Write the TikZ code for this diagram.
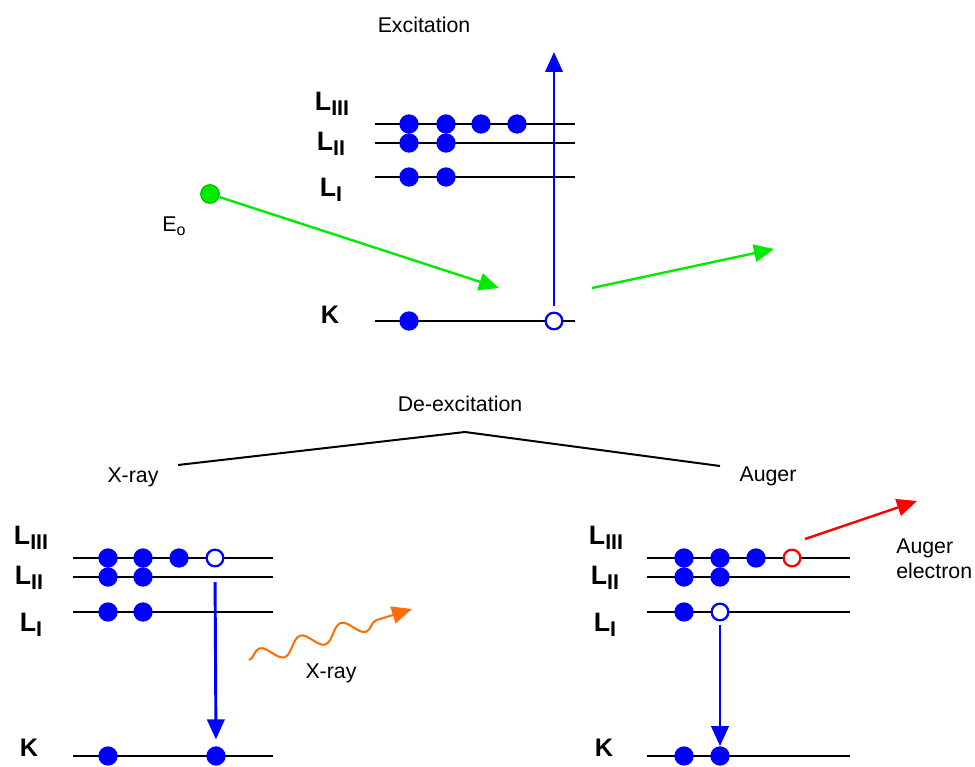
\documentclass[tikz,border=0pt]{standalone}
\usepackage{fontspec}
\setmainfont{Liberation Sans}
\usetikzlibrary{arrows.meta,decorations.pathmorphing}
\definecolor{xorange}{RGB}{255,108,0}
\definecolor{pgreen}{RGB}{0,235,0}
\newcommand{\shellname}[1]{{\fontsize{20}{20}\selectfont\bfseries L}\raisebox{-3.5pt}{\fontsize{16}{16}\selectfont\bfseries #1}}
\begin{document}
\begin{tikzpicture}[x=0.75pt,y=-0.75pt,>={Triangle[length=15pt,width=13pt]},
  level/.style={line width=1.5pt},
  elec/.style={circle,fill=blue,inner sep=0pt,minimum size=14.5pt},
  hole/.style={circle,draw=#1,line width=1.7pt,fill=white,inner sep=0pt,minimum size=12.5pt},
  hole/.default=blue,
  lbl/.style={font=\fontsize{16}{19}\selectfont,inner sep=0pt},
  shell/.style={inner sep=0pt},
  kshell/.style={font=\fontsize{19}{19}\selectfont\bfseries,inner sep=0pt},
  trans/.style={->,blue,line width=2.2pt}]
  \useasboundingbox (0,0) rectangle (975,767);
  \node[lbl] (exc) at (424,25) {Excitation};
  \node[shell] (t3) at (332,104) {\shellname{III}};
  \node[shell] (t2) at (331,144) {\shellname{II}};
  \node[shell] (t1) at (331,190) {\shellname{I}};
  \node[kshell] (tk) at (330,315) {K};
  \draw[level] (375,124) -- (575,124);
  \draw[level] (375,143) -- (575,143);
  \draw[level] (375,177) -- (575,177);
  \draw[level] (375,321) -- (575,321);
  \foreach \x [count=\i] in {409,446,481,517}
    \node[elec] (ta\i) at (\x,124) {};
  \foreach \x [count=\i] in {409,446}{
    \node[elec] (tb\i) at (\x,143) {};
    \node[elec] (tc\i) at (\x,177) {};
  }
  \node[elec] (tk1) at (409,321) {};
  \node[hole] (tkh) at (554,321) {};
  \coordinate (out) at (554,52);
  \draw[trans,shorten <=4pt] (tkh.north) -- (out);
  \node[circle,fill=pgreen,draw=green!70!black,line width=0.8pt,inner sep=0pt,minimum size=14pt] (ep) at (210,194) {};
  \node[lbl] (eplbl) at (174,226) {E\raisebox{-3pt}{\fontsize{12}{12}\selectfont o}};
  \coordinate (g1) at (499,288);
  \coordinate (g2) at (592,288);
  \coordinate (g3) at (774,249);
  \draw[->,pgreen,line width=1.8pt] (ep) -- (g1);
  \draw[->,pgreen,line width=1.8pt] (g2) -- (g3);
  \node[lbl] (dex) at (460,404) {De-excitation};
  \node[lbl] (xr) at (133,477) {X-ray};
  \node[lbl] (au) at (768,476) {Auger};
  \coordinate (apex) at (465,432);
  \draw[line width=1.5pt] (178,465) -- (apex) -- (720,466);
  \node[shell] (l3) at (31,538) {\shellname{III}};
  \node[shell] (l2) at (29,578) {\shellname{II}};
  \node[shell] (l1) at (31,625) {\shellname{I}};
  \node[kshell] (lk) at (29,748) {K};
  \draw[level] (73,558) -- (273,558);
  \draw[level] (73,577) -- (273,577);
  \draw[level] (73,612) -- (273,612);
  \draw[level] (73,756) -- (273,756);
  \foreach \x [count=\i] in {108,143,179}
    \node[elec] (la\i) at (\x,558) {};
  \node[hole] (lah) at (215,558) {};
  \foreach \x [count=\i] in {108,143}{
    \node[elec] (lb\i) at (\x,577) {};
    \node[elec] (lc\i) at (\x,612) {};
  }
  \node[elec] (lk1) at (108,756) {};
  \node[elec] (lk2) at (216,756) {};
  \draw[trans,shorten <=11pt,shorten >=5pt] (lah.south) -- (lk2.north);
  \coordinate (w1) at (249,660);
  \coordinate (w2) at (412,609);
  \draw[->,xorange,line width=1.5pt,decorate,decoration={snake,segment length=32pt,amplitude=6pt,post length=16pt}] (w1) -- (w2);
  \node[lbl] (xr2) at (331,673) {X-ray};
  \node[shell] (r3) at (606,538) {\shellname{III}};
  \node[shell] (r2) at (605,578) {\shellname{II}};
  \node[shell] (r1) at (605,625) {\shellname{I}};
  \node[kshell] (rk) at (604,748) {K};
  \draw[level] (647,558) -- (850,558);
  \draw[level] (647,577) -- (850,577);
  \draw[level] (647,612) -- (850,612);
  \draw[level] (647,756) -- (850,756);
  \foreach \x [count=\i] in {684,720,756}
    \node[elec] (ra\i) at (\x,558) {};
  \node[hole=red] (rah) at (792,558) {};
  \foreach \x in {684,720}
    \node[elec] (rb\x) at (\x,577) {};
  \node[elec] (rc1) at (684,612) {};
  \node[hole] (rch) at (720,612) {};
  \node[elec] (rk1) at (684,756) {};
  \node[elec] (rk2) at (720,756) {};
  \draw[trans,shorten <=3pt] (rch.south) -- (rk2.north);
  \coordinate (r1a) at (805,539);
  \coordinate (r1b) at (917,501);
  \draw[->,red,line width=1.8pt] (r1a) -- (r1b);
  \node[lbl,anchor=west,align=left] (auel) at (896,559) {Auger\\electron};
\end{tikzpicture}
\end{document}
